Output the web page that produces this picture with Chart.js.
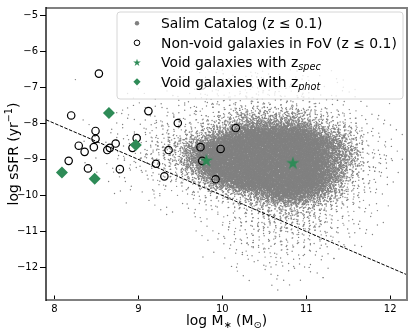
<!DOCTYPE html>
<html>
<head>
<meta charset="utf-8">
<script src="https://cdn.jsdelivr.net/npm/chart.js@4"></script>
<style>
  body { margin: 0; background: #fff; }
  #wrap { width: 415px; height: 332px; }
</style>
</head>
<body>
<div id="wrap"><canvas id="myChart" width="415" height="332"></canvas></div>
<script>
const xTicks = [8, 9, 10, 11, 12];
const yTicks = [-5, -6, -7, -8, -9, -10, -11, -12];

// non-void galaxies in FoV (open circles)
const nonVoidMass = [8.53, 8.20, 9.12, 9.47, 8.49, 8.49, 8.29, 8.36, 8.47, 8.73, 8.63, 8.66, 8.98,
  8.93, 9.36, 8.17, 8.40, 8.78, 9.21, 9.31, 10.16, 9.74, 9.98, 9.76, 9.92, 9.76];
const nonVoidSSFR = [-6.62, -7.78, -7.66, -7.99, -8.21, -8.43, -8.62, -8.79, -8.66, -8.56, -8.74, -8.68, -8.41,
  -8.68, -8.74, -9.04, -9.25, -9.27, -9.12, -9.47, -8.13, -8.66, -8.71, -9.04, -9.55, -6.95];

// void galaxies with z_spec (stars)
const specMass = [9.81, 10.84];
const specSSFR = [-9.04, -9.11];

// void galaxies with z_phot (diamonds)
const photMass = [8.65, 8.97, 8.09, 8.48];
const photSSFR = [-7.71, -8.60, -9.36, -9.54];

// dashed dividing line
const lineMass = [7.9, 12.2];
const lineSSFR = [-7.9, -12.2];

// Salim catalog: far too many galaxies to read one by one, so the cloud was read
// off the picture as a density map. One char per 0.2 x 0.2 dex cell,
// columns start at log M = 8.0, rows start at log sSFR = -6.4 going down.
const salimMass0 = 8.0;
const salimSSFR0 = -6.4;
const salimCell = 0.2;
const salimDensity = [
  "000000011222221100000",
  "010000112233332210000",
  "000001122333333221000",
  "000011123334443321100",
  "000011223344444332100",
  "000112233444444432110",
  "000122334456666543210",
  "001123344567777654320",
  "001223445678888765321",
  "001233456789999876321",
  "001234567899999986421",
  "001234568999999987431",
  "001234568999999987432",
  "001234568999999987432",
  "001233457999999986431",
  "001123356899999986421",
  "000122345789999975321",
  "000112334567899875320",
  "000011223456788764310",
  "000001122345666654310",
  "000000112234566543210",
  "000000011234555543210",
  "000000001234555543200",
  "000000001233444432100",
  "000000000234444432100",
  "000000000123444321000",
  "000000000123333211000",
  "000000000012333210000",
  "000000000011222110000",
  "000000000001221100000",
  "000000000000111000000"
];
// galaxies per cell for each density level
const levelCount = [0, 1, 2, 4, 8, 16, 35, 75, 180, 420];

// Halton radical inverse, used to lay each cell's galaxies out evenly
function halton(i, b) {
  let f = 1, r = 0;
  while (i > 0) {
    f /= b;
    r += f * (i % b);
    i = Math.floor(i / b);
  }
  return r;
}

// each cell's galaxies are spread with a tent profile that reaches half a cell
// into the neighbours, so the map reads as a smooth cloud
const salimPoints = [];
salimDensity.forEach((row, r) => {
  for (let c = 0; c < row.length; c++) {
    const n = levelCount[+row[c]];
    const x0 = salimMass0 + c * salimCell;
    const y0 = salimSSFR0 - r * salimCell;
    const id = r * 21 + c + 1;
    const o1 = (id * 0.6180339887) % 1;
    const o2 = (id * 0.4142135623) % 1;
    const o3 = (id * 0.7320508075) % 1;
    const o4 = (id * 0.2360679775) % 1;
    for (let k = 1; k <= n; k++) {
      const u = ((halton(k, 2) + o1) % 1) + ((halton(k, 5) + o3) % 1) - 0.5;
      const v = ((halton(k, 3) + o2) % 1) + ((halton(k, 7) + o4) % 1) - 0.5;
      salimPoints.push({ x: x0 + u * salimCell, y: y0 - v * salimCell });
    }
  }
});

const GREEN = "#2e8b57";
const FONT = "DejaVu Sans";

function starPath(ctx, cx, cy, R) {
  const r = R * 0.381966;
  ctx.beginPath();
  for (let i = 0; i < 10; i++) {
    const a = -Math.PI / 2 + i * Math.PI / 5;
    const rad = i % 2 ? r : R;
    ctx.lineTo(cx + rad * Math.cos(a), cy + rad * Math.sin(a));
  }
  ctx.closePath();
}

function makeStar(R) {
  const cv = document.createElement("canvas");
  const size = 2 * Math.ceil(R) + 2;
  cv.width = size;
  cv.height = size;
  const c = cv.getContext("2d");
  c.fillStyle = GREEN;
  starPath(c, size / 2, size / 2, R);
  c.fill();
  return cv;
}

function pairs(xs, ys) {
  return xs.map((x, i) => ({ x: x, y: ys[i] }));
}

function fontOf(p, size) {
  return (p.it ? "italic " : "") + size * (p.sc || 1) + "px '" + FONT + "'";
}

// text with sub/superscripts, centred on x
function drawRich(ctx, parts, x, y, size) {
  let w = 0;
  parts.forEach(p => {
    ctx.font = fontOf(p, size);
    p.w = ctx.measureText(p.t).width;
    w += p.w;
  });
  let cx = x - w / 2;
  parts.forEach(p => {
    ctx.font = fontOf(p, size);
    ctx.fillText(p.t, cx, y + (p.dy || 0) * size);
    cx += p.w;
  });
}

function drawTextParts(ctx, parts, x, y, size) {
  let cx = x;
  parts.forEach(p => {
    ctx.font = fontOf(p, size);
    ctx.fillText(p.t, cx, y + (p.dy || 0) * size);
    cx += ctx.measureText(p.t).width;
  });
}

const decor = {
  id: "decor",
  afterDraw(chart) {
    const ctx = chart.ctx;
    const a = chart.chartArea;
    const xs = chart.scales.x;
    ctx.save();

    // inward x ticks
    ctx.strokeStyle = "#000";
    ctx.lineWidth = 1;
    xTicks.forEach(v => {
      const px = Math.round(xs.getPixelForValue(v)) + 0.5;
      ctx.beginPath();
      ctx.moveTo(px, a.bottom);
      ctx.lineTo(px, a.bottom - 4.5);
      ctx.stroke();
    });

    // spines
    ctx.strokeStyle = "#808080";
    ctx.lineWidth = 2;
    ctx.beginPath();
    ctx.moveTo(a.left, a.top);
    ctx.lineTo(a.right, a.top);
    ctx.lineTo(a.right, a.bottom);
    ctx.lineTo(a.left, a.bottom);
    ctx.stroke();
    ctx.strokeStyle = "#000";
    ctx.lineWidth = 1.3;
    ctx.beginPath();
    ctx.moveTo(a.left, a.top - 1);
    ctx.lineTo(a.left, a.bottom + 1);
    ctx.stroke();

    // legend
    const L = 117, T = 12, R = 403, B = 99, rr = 3;
    ctx.beginPath();
    ctx.moveTo(L + rr, T);
    ctx.arcTo(R, T, R, B, rr);
    ctx.arcTo(R, B, L, B, rr);
    ctx.arcTo(L, B, L, T, rr);
    ctx.arcTo(L, T, R, T, rr);
    ctx.closePath();
    ctx.fillStyle = "rgba(255,255,255,0.8)";
    ctx.fill();
    ctx.strokeStyle = "#d6d6d6";
    ctx.lineWidth = 1;
    ctx.stroke();

    const mx = 137, tx = 161;
    const base = [28.3, 47.8, 67.3, 86.8];
    const mid = base.map(b => b - 5);
    ctx.fillStyle = "#808080";
    ctx.beginPath();
    ctx.arc(mx, mid[0], 2.2, 0, Math.PI * 2);
    ctx.fill();
    ctx.strokeStyle = "#000";
    ctx.lineWidth = 1;
    ctx.beginPath();
    ctx.arc(mx, mid[1], 2.8, 0, Math.PI * 2);
    ctx.stroke();
    ctx.fillStyle = GREEN;
    starPath(ctx, mx, mid[2] + 0.5, 4);
    ctx.fill();
    ctx.beginPath();
    ctx.moveTo(mx, mid[3] - 3.6);
    ctx.lineTo(mx + 3.6, mid[3]);
    ctx.lineTo(mx, mid[3] + 3.6);
    ctx.lineTo(mx - 3.6, mid[3]);
    ctx.closePath();
    ctx.fill();

    ctx.fillStyle = "#000";
    ctx.textBaseline = "alphabetic";
    ctx.textAlign = "left";
    const fs = 13.9;
    drawTextParts(ctx, [{ t: "Salim Catalog (z \u2264 0.1)" }], tx, base[0], fs);
    drawTextParts(ctx, [{ t: "Non-void galaxies in FoV (z \u2264 0.1)" }], tx, base[1], fs);
    drawTextParts(ctx, [{ t: "Void galaxies with z" }, { t: "spec", sc: 0.7, dy: 0.22, it: true }], tx, base[2], fs);
    drawTextParts(ctx, [{ t: "Void galaxies with z" }, { t: "phot", sc: 0.7, dy: 0.22, it: true }], tx, base[3], fs);

    // axis titles
    drawRich(ctx, [
      { t: "log M" }, { t: "\u2217", sc: 0.7, dy: 0.2 }, { t: " (M" }, { t: "\u2299", sc: 0.7, dy: 0.2 }, { t: ")" }
    ], (a.left + a.right) / 2, 325, fs);

    ctx.translate(18, (a.top + a.bottom) / 2);
    ctx.rotate(-Math.PI / 2);
    drawRich(ctx, [
      { t: "log sSFR (yr" }, { t: "\u22121", sc: 0.7, dy: -0.4 }, { t: ")" }
    ], 0, 0, fs);
    ctx.restore();
  }
};

new Chart(document.getElementById("myChart"), {
  type: "scatter",
  data: {
    datasets: [
      {
        label: "Void galaxies with z_spec",
        data: pairs(specMass, specSSFR),
        pointStyle: makeStar(7),
        pointRadius: 7,
        order: 0
      },
      {
        label: "Void galaxies with z_phot",
        data: pairs(photMass, photSSFR),
        pointStyle: "rectRot",
        pointRadius: 6,
        backgroundColor: GREEN,
        borderWidth: 0,
        order: 1
      },
      {
        label: "Non-void galaxies in FoV",
        data: pairs(nonVoidMass, nonVoidSSFR),
        pointStyle: "circle",
        pointRadius: 3.7,
        backgroundColor: "rgba(0,0,0,0)",
        borderColor: "#000",
        borderWidth: 1.2,
        order: 2
      },
      {
        type: "line",
        label: "cut",
        data: pairs(lineMass, lineSSFR),
        borderColor: "#000",
        borderWidth: 1,
        borderDash: [3.5, 1.5],
        pointRadius: 0,
        fill: false,
        order: 3
      },
      {
        label: "Salim Catalog",
        data: salimPoints,
        pointStyle: "circle",
        pointRadius: 0.7,
        backgroundColor: "#808080",
        borderWidth: 0,
        order: 4
      }
    ]
  },
  options: {
    responsive: false,
    animation: false,
    events: [],
    devicePixelRatio: 1,
    layout: { padding: { top: 5, right: 5, left: 0, bottom: 0 } },
    plugins: { legend: { display: false }, tooltip: { enabled: false } },
    scales: {
      x: {
        type: "linear",
        min: 7.9,
        max: 12.2,
        afterFit: s => { s.height = 32; },
        afterBuildTicks: s => { s.ticks = xTicks.map(v => ({ value: v })); },
        grid: { drawOnChartArea: false, drawTicks: false },
        border: { display: false },
        ticks: { color: "#000", font: { family: FONT, size: 10 }, padding: 3, maxRotation: 0 }
      },
      y: {
        type: "linear",
        min: -12.9,
        max: -4.8,
        afterFit: s => { s.width = 46; },
        afterBuildTicks: s => { s.ticks = yTicks.map(v => ({ value: v })); },
        grid: { drawOnChartArea: false, drawTicks: true, tickLength: 6, color: "#000", lineWidth: 1 },
        border: { display: false },
        ticks: {
          color: "#000",
          font: { family: FONT, size: 10 },
          padding: 2,
          callback: v => String(v).replace("-", "\u2212")
        }
      }
    }
  },
  plugins: [decor]
});
</script>
</body>
</html>
